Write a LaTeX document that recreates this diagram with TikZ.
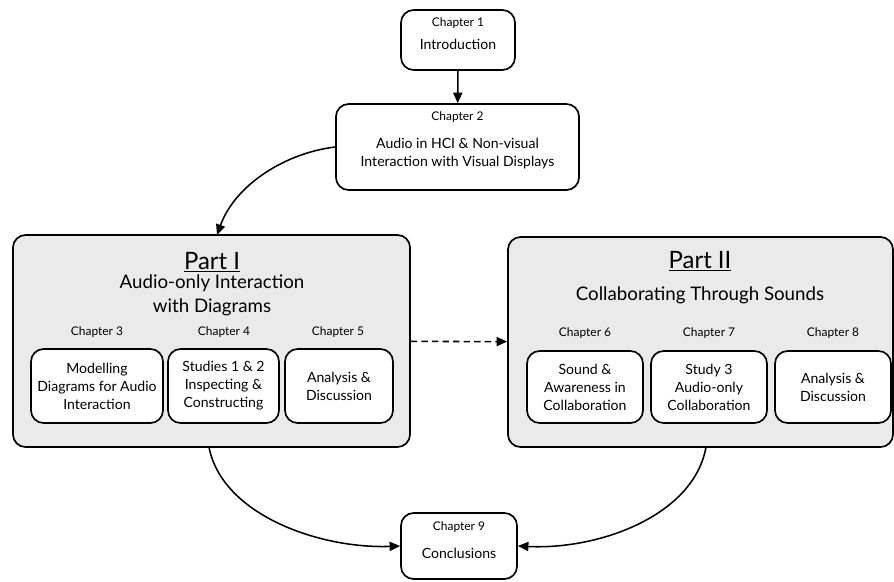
\documentclass[tikz,border=0pt]{standalone}
\usepackage{fontspec}
\setmainfont{Lato}
\usetikzlibrary{arrows.meta,positioning}

\begin{document}
\begin{tikzpicture}[x=0.025cm, y=-0.025cm,
    chapbox/.style={draw, line width=1.2pt, rounded corners=9pt, fill=white, inner sep=0pt},
    partbox/.style={draw, line width=1.2pt, rounded corners=9pt, fill=partgray, inner sep=0pt},
    chaptag/.style={font=\fontsize{8.5}{10}\selectfont},
    chaptext/.style={align=center, font=\fontsize{10}{12.8}\selectfont},
    parttitle/.style={font=\fontsize{17}{20}\selectfont},
    partsub/.style={align=center, font=\fontsize{13.3}{17}\selectfont},
    link/.style={-{Triangle[length=7.5pt,width=6.5pt]}, line width=1.1pt}]
    \definecolor{partgray}{RGB}{234,234,234}
    \useasboundingbox (0,0) rectangle (894,581);

    % Top chapters
    \node[chapbox, minimum width=2.85cm, minimum height=1.5cm] (ch1) at (458,40) {};
    \node[chaptag] (ch1tag) at (458,23) {Chapter 1};
    \node[chaptext] (ch1text) at (458,44) {Introduction};

    \node[chapbox, minimum width=6.075cm, minimum height=2.15cm] (ch2) at (457.5,147) {};
    \node[chaptag] (ch2tag) at (457.5,117) {Chapter 2};
    \node[chaptext] (ch2text) at (457.5,154) {Audio in HCI \& Non-visual\\Interaction with Visual Displays};

    % Part I
    \node[partbox, minimum width=9.925cm, minimum height=5.3cm] (partI) at (211.5,341) {};
    \node[parttitle] (partItitle) at (212,262) {\underline{Part I}};
    \node[partsub] (partIsub) at (212,295) {Audio-only Interaction\\with Diagrams};

    \node[chaptag] (ch3tag) at (97,332) {Chapter 3};
    \node[chaptag] (ch4tag) at (224,332) {Chapter 4};
    \node[chaptag] (ch5tag) at (338,332) {Chapter 5};
    \node[chapbox, chaptext, minimum width=3.3cm, minimum height=1.85cm] (ch3) at (97,386) {Modelling\\Diagrams for Audio\\Interaction};
    \node[chapbox, chaptext, minimum width=2.775cm, minimum height=1.85cm] (ch4) at (223.5,386) {Studies 1 \& 2\\Inspecting \&\\Constructing};
    \node[chapbox, chaptext, minimum width=2.7cm, minimum height=1.85cm] (ch5) at (339,386) {Analysis \&\\Discussion};

    % Part II
    \node[partbox, minimum width=9.625cm, minimum height=5.25cm] (partII) at (700.5,342) {};
    \node[parttitle] (partIItitle) at (700,261) {\underline{Part II}};
    \node[partsub] (partIIsub) at (700,295) {Collaborating Through Sounds};

    \node[chaptag] (ch6tag) at (585,333) {Chapter 6};
    \node[chaptag] (ch7tag) at (709,333) {Chapter 7};
    \node[chaptag] (ch8tag) at (833,333) {Chapter 8};
    \node[chapbox, chaptext, minimum width=2.9cm, minimum height=1.8cm] (ch6) at (585,387) {Sound \&\\Awareness in\\Collaboration};
    \node[chapbox, chaptext, minimum width=2.9cm, minimum height=1.8cm] (ch7) at (709,387) {Study 3\\Audio-only\\Collaboration};
    \node[chapbox, chaptext, minimum width=2.9cm, minimum height=1.8cm] (ch8) at (833,387) {Analysis \&\\Discussion};

    % Conclusions
    \node[chapbox, minimum width=2.9cm, minimum height=1.65cm] (ch9) at (459,546) {};
    \node[chaptag] (ch9tag) at (459,527) {Chapter 9};
    \node[chaptext] (ch9text) at (459,553) {Conclusions};

    % Connectors
    \coordinate (partIin) at (217,235);
    \coordinate (partIout) at (209,447);
    \coordinate (partIIout) at (706,447);
    \draw[link] (ch1) -- (ch2);
    \draw[link] (ch2.west) .. controls (285,153) and (235,185) .. (partIin);
    \draw[link, dash pattern=on 4.5pt off 3pt] (partI) -- (partII);
    \draw[link] (partIout) .. controls (222,515) and (320,549) .. (ch9.west);
    \draw[link] (partIIout) .. controls (694,515) and (600,550) .. (ch9.east);
\end{tikzpicture}
\end{document}
